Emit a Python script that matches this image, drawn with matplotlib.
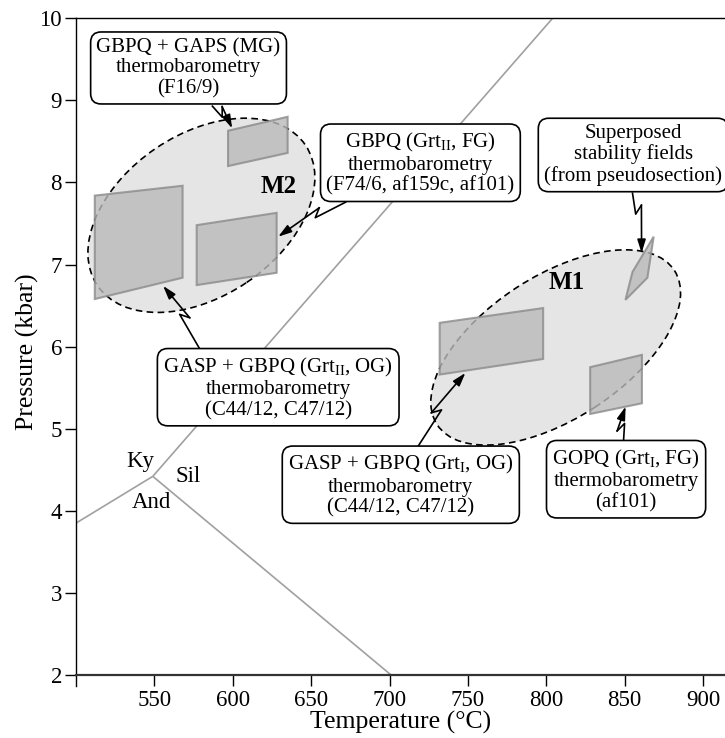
import numpy as np
import matplotlib
matplotlib.use("Agg")
import matplotlib.pyplot as plt
from matplotlib.patches import Polygon, Ellipse
from matplotlib.transforms import ScaledTranslation

plt.rcParams.update({
    "font.family": ["Liberation Serif", "DejaVu Serif"],
    "mathtext.fontset": "custom",
    "mathtext.rm": "Liberation Serif",
    "mathtext.it": "Liberation Serif:italic",
    "mathtext.bf": "Liberation Serif:bold",
})

# --- aluminosilicate phase diagram (T in °C, P in kbar) ---
triple_pt = (549, 4.42)
ky_sil_end = (804, 10.0)
and_ky_end = (500, 3.85)
and_sil_end = (701, 2.0)

# --- P-T fields from thermobarometry (polygon corners) ---
m2_gasp_T = [512, 568, 568, 512]
m2_gasp_P = [7.84, 7.96, 6.84, 6.58]
m2_gbpq_T = [577, 628, 628, 577]
m2_gbpq_P = [7.48, 7.63, 6.90, 6.75]
m2_gaps_T = [597, 635, 635, 597]
m2_gaps_P = [8.63, 8.80, 8.36, 8.20]
m1_gasp_T = [732, 798, 798, 732]
m1_gasp_P = [6.29, 6.47, 5.85, 5.66]
m1_gopq_T = [828, 861, 861, 828]
m1_gopq_P = [5.75, 5.90, 5.31, 5.18]
pseudo_T = [868.5, 864.5, 850.5, 855.0]
pseudo_P = [7.34, 6.84, 6.57, 6.91]

# --- metamorphic stages (centre T, P) ---
m2_centre = (580, 7.60)
m1_centre = (806, 5.99)

# --- callout arrows: (start T, P) -> (end T, P) ---
arrow_start = [(587, 8.93), (672, 7.76), (855, 7.87), (579, 5.97), (718, 4.78), (849.3, 4.86)]
arrow_end = [(599.6, 8.66), (629, 7.34), (860.8, 7.14), (555.6, 6.74), (748.4, 5.68), (850.6, 5.27)]

# --- callout texts ---
note_text = [
    "GBPQ + GAPS (MG)\nthermobarometry\n(F16/9)",
    "GBPQ (Grt$_{\\mathrm{II}}$, FG)\nthermobarometry\n(F74/6, af159c, af101)",
    "Superposed\nstability fields\n(from pseudosection)",
    "GASP + GBPQ (Grt$_{\\mathrm{II}}$, OG)\nthermobarometry\n(C44/12, C47/12)",
    "GASP + GBPQ (Grt$_{\\mathrm{I}}$, OG)\nthermobarometry\n(C44/12, C47/12)",
    "GOPQ (Grt$_{\\mathrm{I}}$, FG)\nthermobarometry\n(af101)",
]
note_pos = [(571.8, 9.395), (719.7, 8.231), (855.4, 8.335),
            (629.0, 5.497), (707.2, 4.309), (850.9, 4.376)]

LINE_GREY = "#a0a0a0"
FIELD_FILL = "#bababa"
FIELD_EDGE = "#8a8a8a"
STAGE_FILL = "#e5e5e5"

fig = plt.figure(figsize=(7.25, 7.38), dpi=100)
ax = fig.add_axes([0.1048, 0.0709, 0.8952, 0.9043])
ax.set_xlim(500, 914)
ax.set_ylim(1.87, 10)

# axes styling
ax.spines["right"].set_visible(False)
ax.spines["bottom"].set_position(("data", 2))
ax.spines["bottom"].set_linewidth(1.6)
ax.spines["bottom"].set_color("#333333")
ax.spines["left"].set_linewidth(1.0)
ax.spines["top"].set_linewidth(1.0)
ax.set_xticks([550, 600, 650, 700, 750, 800, 850, 900])
ax.set_yticks([2, 3, 4, 5, 6, 7, 8, 9, 10])
ax.tick_params(direction="out", length=8, width=1, labelsize=16.5, pad=2)
ax.tick_params(axis="x", pad=3)
ax.set_xlabel("Temperature (°C)", fontsize=18.5, labelpad=0)
ax.set_ylabel("Pressure (kbar)", fontsize=18.5, labelpad=0)

# aluminosilicate reactions
for end in (ky_sil_end, and_ky_end, and_sil_end):
    ax.plot([triple_pt[0], end[0]], [triple_pt[1], end[1]],
            color=LINE_GREY, lw=1.2, zorder=1, solid_capstyle="butt")
ax.text(540.9, 4.605, "Ky", fontsize=16.5, ha="center", va="center")
ax.text(571.5, 4.42, "Sil", fontsize=16.5, ha="center", va="center")
ax.text(547.9, 4.10, "And", fontsize=16.5, ha="center", va="center")

# metamorphic stage ellipses (size fixed in inches, centred in data coords)
for centre, w, h, ang in [(m2_centre, 2.51, 1.62, 34), (m1_centre, 2.83, 1.43, 33)]:
    tr = fig.dpi_scale_trans + ScaledTranslation(centre[0], centre[1], ax.transData)
    ax.add_patch(Ellipse((0, 0), w, h, angle=ang, transform=tr, fc=STAGE_FILL,
                         ec="black", lw=1.2, ls=(0, (4.0, 2.6)), zorder=2))
ax.text(629, 7.957, "M2", fontsize=18, fontweight="bold", ha="center", va="center", zorder=3)
ax.text(812.9, 6.777, "M1", fontsize=18, fontweight="bold", ha="center", va="center", zorder=3)

# thermobarometry fields
for T, P in [(m2_gasp_T, m2_gasp_P), (m2_gbpq_T, m2_gbpq_P), (m2_gaps_T, m2_gaps_P),
             (m1_gasp_T, m1_gasp_P), (m1_gopq_T, m1_gopq_P), (pseudo_T, pseudo_P)]:
    ax.add_patch(Polygon(np.column_stack([T, P]), closed=True, fc=FIELD_FILL,
                         ec=FIELD_EDGE, lw=1.5, alpha=0.8, zorder=3))


def wiggle_arrow(start, end, frac=0.5, w=7, h=8, flip=1):
    """Callout line with a small zigzag break and an arrow head."""
    to_px = ax.transData
    p0 = to_px.transform(start)
    p1 = to_px.transform(end)
    d = p1 - p0
    L = np.hypot(*d)
    d = d / L
    n = np.array([-d[1], d[0]]) * flip
    m = p0 + d * L * frac
    q = m + n * w - d * h
    pts = to_px.inverted().transform(np.array([p0, m, q]))
    ax.plot(pts[:, 0], pts[:, 1], color="black", lw=1.2, zorder=5)
    ax.annotate("", xy=end, xytext=tuple(pts[-1]),
                arrowprops=dict(arrowstyle="-|>,head_length=0.8,head_width=0.25",
                                color="black", lw=1.2, shrinkA=0, shrinkB=0),
                zorder=5)


zig = [(0.5, 1), (0.45, -1), (0.35, 1), (0.55, -1), (0.5, 1), (0.5, 1)]
for s, e, (f, fl) in zip(arrow_start, arrow_end, zig):
    wiggle_arrow(s, e, frac=f, flip=fl)

# callout boxes
for txt, (x, y) in zip(note_text, note_pos):
    ax.text(x, y, txt, fontsize=15, ha="center", va="center", linespacing=1.1,
            zorder=6, bbox=dict(boxstyle="round,pad=0.28,rounding_size=0.5",
                                fc="white", ec="black", lw=1.2))

fig.savefig("out.png", dpi=100)
